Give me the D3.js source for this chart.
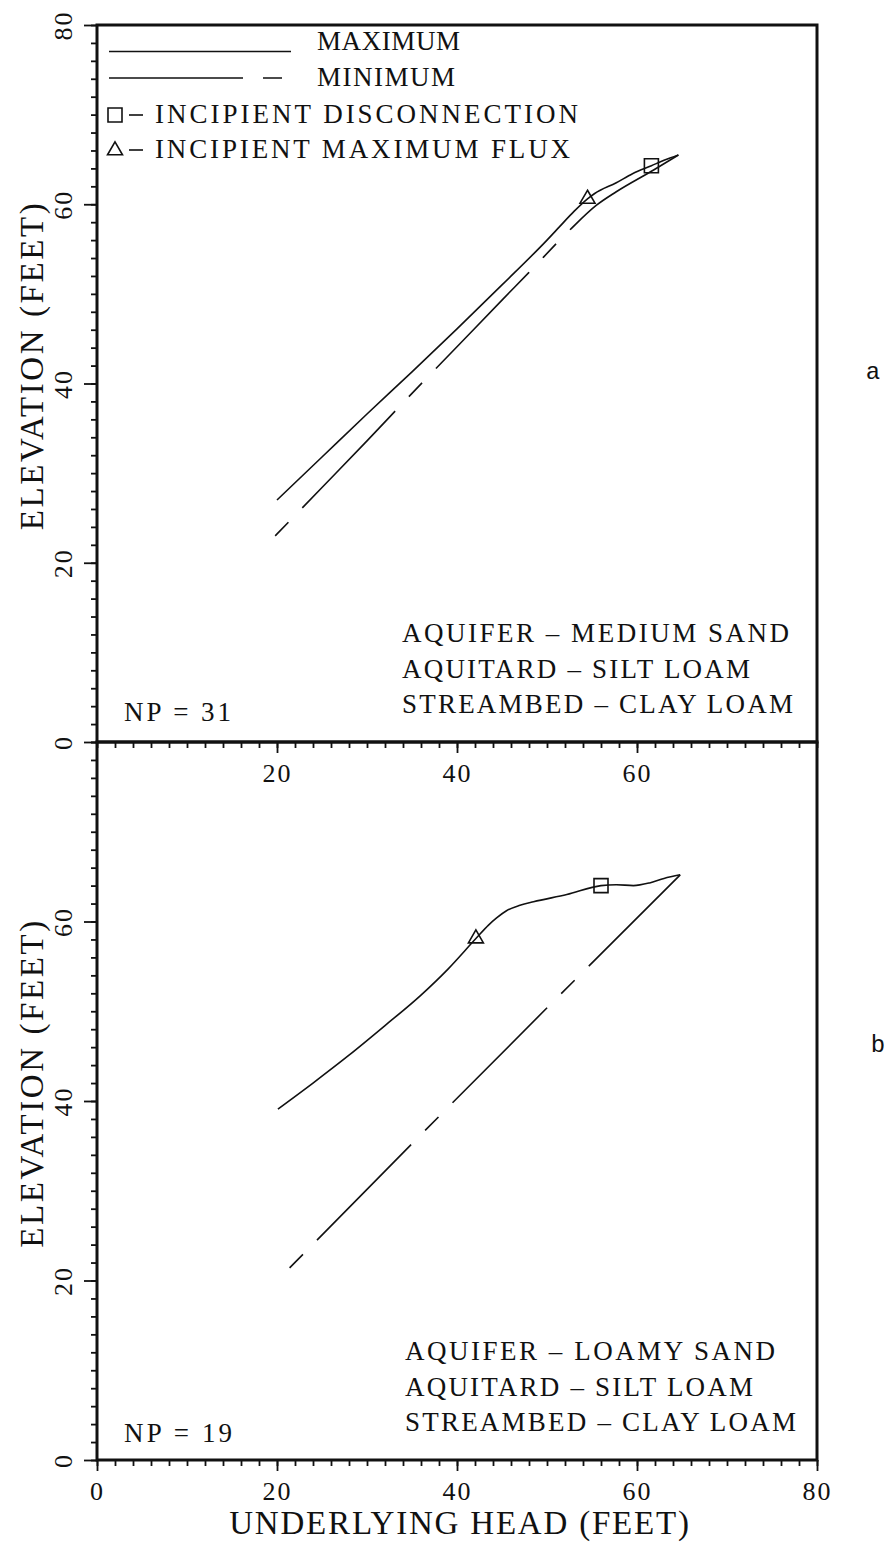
<!DOCTYPE html>
<html>
<head>
<meta charset="utf-8">
<script src="https://cdn.jsdelivr.net/npm/d3@7"></script>
<style>
  html, body { margin: 0; padding: 0; background: #fff; }
  svg { display: block; }
  text { font-family: "Liberation Serif", "Times New Roman", serif; fill: #111; }
  .tick-label { font-size: 26px; letter-spacing: 2px; }
  .legend-label, .soil-label, .np-label { font-size: 27px; }
  .axis-title { font-size: 33px; letter-spacing: 1.8px; }
  .y-title { letter-spacing: 2.6px; }
  .panel-tag { font-family: "Liberation Mono", "DejaVu Sans Mono", monospace; font-size: 24px; }
</style>
</head>
<body>
<svg id="chart" width="886" height="1543"></svg>
<script>
// ---- values (feet) ----
// panel a : aquifer of medium sand
const maxHeadA = [20.0, 25.0, 30.0, 35.0, 40.0, 45.0, 50.0, 51.4, 53.0, 54.5, 55.3, 57.7, 59.5, 61.6, 63.0, 64.6];
const maxElevA = [27.0, 31.8, 36.6, 41.3, 46.1, 51.0, 56.0, 57.5, 59.2, 60.6, 61.2, 62.4, 63.4, 64.3, 64.9, 65.5];
const minHeadA = [19.8, 25.0, 30.0, 35.0, 40.0, 45.0, 48.0, 52.5, 55.5, 57.7, 61.8, 64.6];
const minElevA = [23.0, 28.4, 33.6, 38.9, 44.1, 49.3, 52.4, 57.1, 59.9, 61.4, 63.8, 65.5];
const disconnectA = [61.6, 64.3];   // incipient disconnection (head, elevation)
const maxFluxA = [54.5, 60.6];      // incipient maximum flux (head, elevation)
const soilsA = ["AQUIFER \u2013 MEDIUM SAND", "AQUITARD \u2013 SILT LOAM", "STREAMBED \u2013 CLAY LOAM"];
const npA = 31;

// panel b : aquifer of loamy sand
const maxHeadB = [20.1, 24.0, 28.0, 32.0, 36.0, 39.0, 42.1, 43.5, 44.4, 45.5, 47.0, 48.5, 52.2, 56.0, 57.7, 59.6, 61.4, 63.0, 64.8];
const maxElevB = [39.1, 42.0, 45.1, 48.4, 51.8, 54.7, 58.1, 59.6, 60.4, 61.2, 61.8, 62.2, 63.0, 64.0, 64.1, 64.0, 64.3, 64.8, 65.2];
const minHeadB = [21.4, 39.4, 64.8];
const minElevB = [21.4, 39.7, 65.2];
const disconnectB = [56.0, 64.0];
const maxFluxB = [42.1, 58.1];
const soilsB = ["AQUIFER \u2013 LOAMY SAND", "AQUITARD \u2013 SILT LOAM", "STREAMBED \u2013 CLAY LOAM"];
const npB = 19;

// ---- axes & labels ----
const axisDomain = [0, 80];
const minorTicks = d3.range(0, 81, 2);
const majorTicks = [0, 20, 40, 60, 80];
const topHeadTicks = [20, 40, 60];
const legendLabels = ["MAXIMUM", "MINIMUM", "INCIPIENT DISCONNECTION", "INCIPIENT MAXIMUM FLUX"];
const xTitle = "UNDERLYING HEAD (FEET)";
const yTitle = "ELEVATION (FEET)";
const panelTags = ["a", "b"];

// ---- layout ----
const svg = d3.select("#chart");
const left = 97, right = 817;
const x = d3.scaleLinear(axisDomain, [left, right]);

// plotter lettering is widely spaced: set run lengths per string
const runLength = {
  "MAXIMUM": 143, "MINIMUM": 138,
  "INCIPIENT DISCONNECTION": 423, "INCIPIENT MAXIMUM FLUX": 415,
  "AQUIFER \u2013 MEDIUM SAND": 387, "AQUIFER \u2013 LOAMY SAND": 370,
  "AQUITARD \u2013 SILT LOAM": 348, "STREAMBED \u2013 CLAY LOAM": 391,
  "NP = 31": 107, "NP = 19": 108
};
function fit(sel) {
  sel.attr("textLength", d => runLength[d] || null).attr("lengthAdjust", "spacing");
}

const panels = [
  { top: 25,  bottom: 742,  tag: panelTags[0], maxH: maxHeadA, maxE: maxElevA, minH: minHeadA, minE: minElevA,
    disc: disconnectA, flux: maxFluxA, soils: soilsA, np: npA, yLabels: majorTicks, xLabels: topHeadTicks,
    legend: true, tagY: 372, tagX: 873, npShift: 21, soilX: 402 },
  { top: 742, bottom: 1460, tag: panelTags[1], maxH: maxHeadB, maxE: maxElevB, minH: minHeadB, minE: minElevB,
    disc: disconnectB, flux: maxFluxB, soils: soilsB, np: npB, yLabels: [0, 20, 40, 60], xLabels: majorTicks,
    legend: false, tagY: 1045, tagX: 878, npShift: 18, soilX: 405 }
];

const minDash = "19,20,134,20";
const ink = "#111";

panels.forEach(p => {
  const y = d3.scaleLinear(axisDomain, [p.bottom, p.top]);
  const g = svg.append("g");

  // left axis: minor and major ticks
  const yMinor = g.append("g").attr("transform", `translate(${left},0)`)
    .call(d3.axisLeft(y).tickValues(minorTicks).tickSize(6).tickFormat(""));
  const yMajor = g.append("g").attr("transform", `translate(${left},0)`)
    .call(d3.axisLeft(y).tickValues(p.yLabels).tickSize(13).tickFormat(d3.format("d")));
  [yMinor, yMajor].forEach(a => {
    a.attr("font-size", null).attr("font-family", null);
    a.select(".domain").remove();
    a.selectAll(".tick line").attr("stroke", ink).attr("stroke-width", 1.8);
  });
  yMajor.selectAll(".tick text")
    .attr("class", "tick-label")
    .attr("x", 0).attr("dy", null)
    .attr("text-anchor", "middle")
    .attr("dominant-baseline", "central")
    .attr("transform", "translate(-34,0) rotate(-90)");

  // bottom axis: minor and major ticks
  const xMinor = g.append("g").attr("transform", `translate(0,${p.bottom})`)
    .call(d3.axisBottom(x).tickValues(minorTicks).tickSize(6).tickFormat(""));
  const xMajor = g.append("g").attr("transform", `translate(0,${p.bottom})`)
    .call(d3.axisBottom(x).tickValues(p.xLabels).tickSize(11).tickPadding(11).tickFormat(d3.format("d")));
  [xMinor, xMajor].forEach(a => {
    a.attr("font-size", null).attr("font-family", null);
    a.select(".domain").remove();
    a.selectAll(".tick line").attr("stroke", ink).attr("stroke-width", 1.8);
  });
  xMajor.selectAll(".tick text").attr("class", "tick-label").attr("text-anchor", "middle");

  // frame
  g.append("rect")
    .attr("x", left).attr("y", p.top)
    .attr("width", right - left).attr("height", p.bottom - p.top)
    .attr("fill", "none").attr("stroke", ink).attr("stroke-width", 3);

  // curves
  const line = d3.line().x(d => x(d[0])).y(d => y(d[1])).curve(d3.curveMonotoneX);
  g.append("path")
    .attr("d", line(p.maxH.map((h, k) => [h, p.maxE[k]])))
    .attr("fill", "none").attr("stroke", ink).attr("stroke-width", 1.6);
  g.append("path")
    .attr("d", line(p.minH.map((h, k) => [h, p.minE[k]])))
    .attr("fill", "none").attr("stroke", ink).attr("stroke-width", 1.6)
    .attr("stroke-dasharray", minDash);

  // markers
  g.append("path")
    .attr("d", d3.symbol(d3.symbolSquare, 196)())
    .attr("transform", `translate(${x(p.disc[0])},${y(p.disc[1])})`)
    .attr("fill", "none").attr("stroke", ink).attr("stroke-width", 1.6);
  g.append("path")
    .attr("d", d3.symbol(d3.symbolTriangle, 97)())
    .attr("transform", `translate(${x(p.flux[0])},${y(p.flux[1])})`)
    .attr("fill", "none").attr("stroke", ink).attr("stroke-width", 1.6);

  // soil description
  g.selectAll(".soil-label").data(p.soils).join("text")
    .attr("class", "soil-label")
    .attr("x", p.soilX)
    .attr("y", (d, k) => p.bottom - 100 + k * 35.5)
    .text(d => d)
    .call(fit);

  g.selectAll(".np-label").data([`NP = ${p.np}`]).join("text")
    .attr("class", "np-label")
    .attr("x", 124).attr("y", p.bottom - p.npShift)
    .text(d => d)
    .call(fit);

  // y title
  g.append("text").attr("class", "axis-title y-title")
    .attr("text-anchor", "middle")
    .attr("transform", `translate(43,${(p.top + p.bottom) / 2 - 18}) rotate(-90)`)
    .text(yTitle);

  // panel tag
  g.append("text").attr("class", "panel-tag")
    .attr("x", p.tagX).attr("y", p.tagY)
    .attr("text-anchor", "middle").attr("dominant-baseline", "central")
    .text(p.tag);

  // legend
  if (p.legend) {
    const lg = g.append("g");
    lg.append("line").attr("x1", 109).attr("x2", 291).attr("y1", 51.5).attr("y2", 51.5)
      .attr("stroke", ink).attr("stroke-width", 1.6);
    lg.append("line").attr("x1", 109).attr("x2", 284).attr("y1", 78).attr("y2", 78)
      .attr("stroke", ink).attr("stroke-width", 1.6)
      .attr("stroke-dasharray", minDash).attr("stroke-dashoffset", 39);
    lg.append("path").attr("d", d3.symbol(d3.symbolSquare, 196)())
      .attr("transform", "translate(115,115)")
      .attr("fill", "none").attr("stroke", ink).attr("stroke-width", 1.6);
    lg.append("path").attr("d", d3.symbol(d3.symbolTriangle, 97)())
      .attr("transform", "translate(115,150.5)")
      .attr("fill", "none").attr("stroke", ink).attr("stroke-width", 1.6);
    // separating dashes after the symbols
    [115, 150].forEach(cy => lg.append("line")
      .attr("x1", 129).attr("x2", 143).attr("y1", cy).attr("y2", cy)
      .attr("stroke", ink).attr("stroke-width", 1.6));
    const lx = [317, 317, 155, 155];
    const ly = [50, 86, 123, 158];
    lg.selectAll(".legend-label").data(legendLabels).join("text")
      .attr("class", "legend-label")
      .attr("x", (d, k) => lx[k]).attr("y", (d, k) => ly[k])
      .text(d => d)
      .call(fit);
  }
});

// x title
svg.append("text").attr("class", "axis-title")
  .attr("x", (left + right) / 2 + 3).attr("y", 1534)
  .attr("text-anchor", "middle")
  .text(xTitle);
</script>
</body>
</html>
